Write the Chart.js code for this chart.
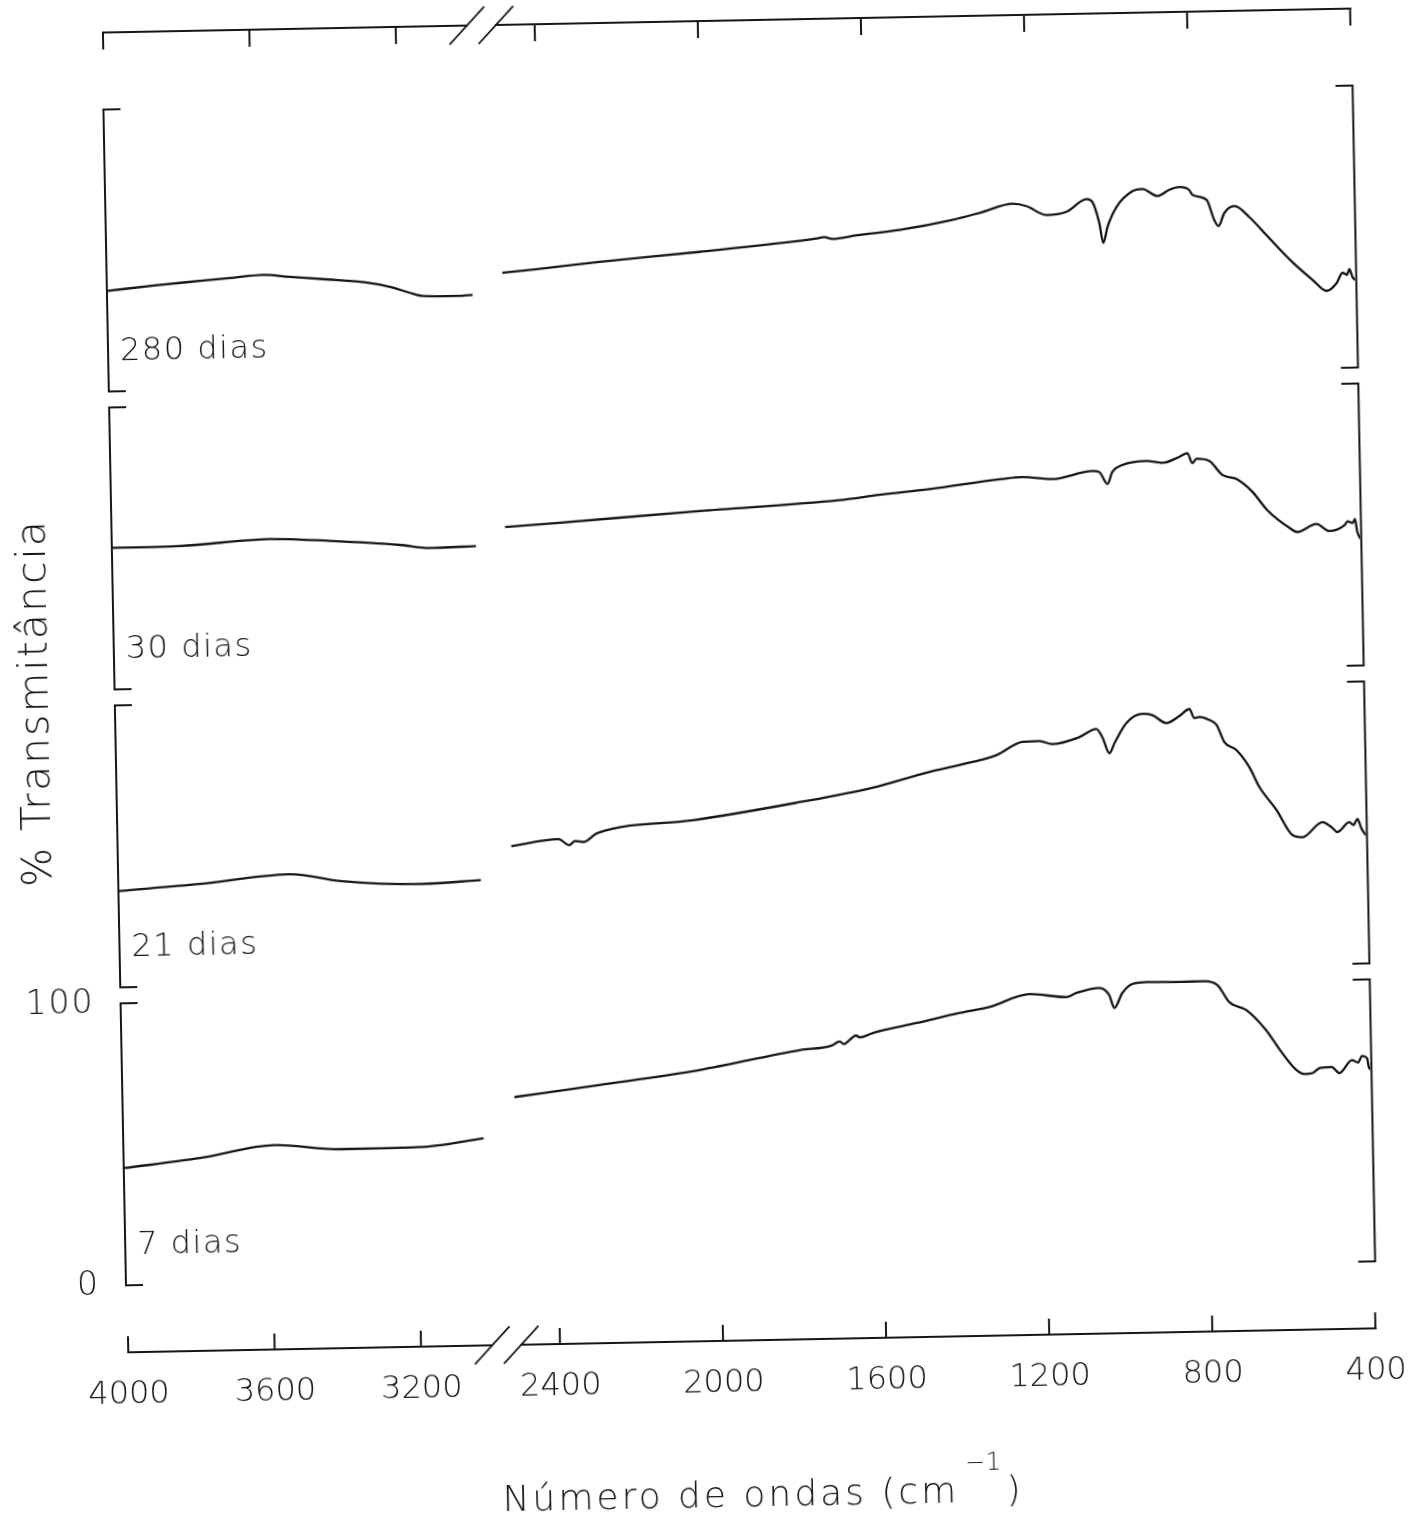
<!DOCTYPE html>
<html>
<head>
<meta charset="utf-8">
<script src="https://cdn.jsdelivr.net/npm/chart.js@4/dist/chart.umd.min.js"></script>
<style>
html,body{margin:0;padding:0;background:#fff;overflow:hidden;width:1423px;height:1518px}
#wrap{position:absolute;left:0;top:0;width:1423px;height:1518px;transform:rotate(-1.1deg);transform-origin:711px 759px}
canvas{display:block}
</style>
</head>
<body>
<div id="wrap"><canvas id="c" width="1423" height="1518"></canvas></div>
<script>
// ---------- data (wavenumber in cm-1, % transmittance) ----------
const panelLabels = ['7 dias', '21 dias', '30 dias', '280 dias'];
const xTickValues = [4000, 3600, 3200, 2400, 2000, 1600, 1200, 800, 400];
const yTickLabels = ['0', '100'];

// 280 dias
const wn280L = [4000, 3865, 3748, 3666, 3576, 3502, 3412, 3283, 3229, 3174, 3138, 3045, 3004];
const t280L  = [35.7, 37.4, 38.6, 39.4, 40.3, 39.4, 38.4, 36.7, 35.2, 32.9, 31.7, 31.5, 31.8];
const wn280R = [2491, 2405, 2253, 2007, 1761, 1720, 1700, 1680, 1620, 1515, 1385, 1311, 1237, 1203, 1154, 1105, 1055, 1041, 1025, 1016, 1005, 982, 942, 918, 881, 852, 827, 803, 795, 761, 743, 733, 718, 693, 657, 616, 554, 504, 471, 446, 431, 420, 414, 410, 407, 400];
const t280R  = [39.4, 40.5, 42.6, 45.5, 48.7, 49.4, 49.9, 49.2, 50.3, 51.9, 55.1, 57.7, 60.4, 59.5, 56.2, 57.2, 61.6, 60.5, 53.0, 45.9, 51.6, 58.6, 64.1, 64.8, 62.2, 64.3, 65.2, 64.1, 62.3, 60.5, 53.3, 51.1, 55.7, 58.1, 54.1, 47.6, 37.9, 31.3, 27.4, 30.1, 33.7, 33.0, 35.0, 33.6, 32.2, 31.0];

// 30 dias
const wn30L = [4000, 3817, 3571, 3407, 3216, 3134, 3008];
const t30L  = [50.2, 50.4, 52.3, 51.2, 49.3, 48.0, 48.4];
const wn30R = [2496, 2370, 2019, 1675, 1577, 1454, 1275, 1226, 1152, 1054, 1037, 1017, 1005, 980, 921, 882, 840, 820, 808, 798, 766, 735, 701, 662, 627, 573, 554, 507, 475, 438, 430, 418, 412, 407, 400];
const t30R  = [54.9, 56.0, 59.3, 62.2, 63.8, 65.5, 68.6, 69.1, 68.2, 70.8, 70.4, 66.1, 70.3, 72.7, 74.0, 73.2, 75.2, 76.5, 72.9, 74.4, 73.5, 68.5, 67.0, 62.3, 55.8, 49.3, 47.8, 50.5, 47.9, 49.9, 51.2, 50.6, 52.0, 47.4, 45.0];

// 21 dias
const wn21L = [4000, 3780, 3534, 3397, 3178, 3012];
const t21L  = [34.2, 36.1, 39.0, 36.2, 34.6, 35.6];
const wn21R = [2496, 2380, 2354, 2339, 2319, 2284, 2049, 1785, 1611, 1467, 1394, 1302, 1238, 1196, 1165, 1098, 1056, 1042, 1025, 1012, 982, 942, 918, 884, 852, 827, 815, 803, 779, 761, 743, 714, 683, 659, 618, 580, 556, 506, 482, 470, 440, 430, 420, 411, 404, 400];
const t21R  = [47.4, 49.6, 47.4, 48.8, 48.4, 51.5, 55.4, 61.1, 65.6, 70.9, 73.1, 76.4, 80.9, 81.1, 79.9, 82.2, 85.0, 82.1, 76.3, 79.9, 86.9, 90.0, 89.5, 86.6, 89.0, 91.4, 88.2, 88.5, 87.4, 85.6, 79.5, 76.6, 70.5, 63.3, 55.0, 46.0, 45.2, 50.4, 48.3, 46.8, 50.2, 49.2, 51.3, 48.0, 46.3, 45.5];

// 7 dias
const wn7L = [4000, 3794, 3589, 3411, 3193, 3018];
const t7L  = [41.6, 44.6, 48.7, 46.8, 47.0, 49.7];
const wn7R = [2500, 2292, 2046, 1799, 1720, 1700, 1690, 1676, 1660, 1650, 1620, 1602, 1511, 1405, 1332, 1232, 1142, 1117, 1061, 1037, 1025, 1005, 980, 945, 864, 803, 771, 743, 702, 654, 621, 581, 561, 542, 524, 495, 476, 445, 430, 420, 408, 404, 400];
const t7R  = [64.1, 67.8, 72.4, 78.8, 80.2, 81.6, 80.6, 82.0, 83.6, 82.9, 84.3, 85.0, 87.6, 90.9, 92.8, 97.1, 95.8, 97.2, 98.8, 96.2, 91.6, 96.8, 100.0, 100.6, 100.4, 100.5, 99.0, 92.9, 90.0, 82.7, 75.6, 68.3, 66.9, 67.2, 68.9, 69.2, 67.0, 71.5, 70.6, 72.9, 72.1, 69.0, 68.0];

// ---------- broken wavenumber axis ----------
const K_LEFT = 0.366;    // px per cm-1, 4000-3000 segment
const K_RIGHT = 0.4078;  // px per cm-1, 2500-400 segment
const GAP = 25;
function wnToP(w) {
  if (w >= 3000) return (4000 - w) * K_LEFT;
  return 1000 * K_LEFT + GAP + (2500 - w) * K_RIGHT;
}
const P_MAX = wnToP(400);

// vertical stacking of the four panels (each 0-100 %)
const SPACING = 105.67;
const Y_MIN = -23.76, Y_MAX = 444.33;
const INK = '#161616';
const FONT = '"DejaVu Sans", "Liberation Sans", sans-serif';
const FW = '200 ';

function series(wn, t, k) {
  return wn.map((w, i) => ({ x: wnToP(w), y: k * SPACING + t[i] }));
}
const spectra = [
  [wn7L, t7L, 0], [wn7R, t7R, 0],
  [wn21L, t21L, 1], [wn21R, t21R, 1],
  [wn30L, t30L, 2], [wn30R, t30R, 2],
  [wn280L, t280L, 3], [wn280R, t280R, 3]
];
const datasets = spectra.map(([wn, t, k]) => ({
  data: series(wn, t, k),
  borderColor: INK,
  borderWidth: 2.3,
  pointRadius: 0,
  cubicInterpolationMode: 'monotone',
  fill: false,
  borderJoinStyle: 'round'
}));

const irAxes = {
  id: 'irAxes',
  afterDatasetsDraw(chart) {
    const { ctx } = chart;
    const xs = chart.scales.x, ys = chart.scales.y;
    const X = w => xs.getPixelForValue(wnToP(w));
    const Y = v => ys.getPixelForValue(v);
    ctx.save();
    ctx.strokeStyle = INK;
    ctx.fillStyle = INK;
    ctx.lineWidth = 2;
    ctx.lineCap = 'square';

    const yTop = Y(Y_MAX), yBot = Y(Y_MIN);
    const xL = X(4000), xR = X(400);
    const xB1 = X(3000) - 2, xB2 = X(2500) + 2;

    function line(x1, y1, x2, y2) { ctx.beginPath(); ctx.moveTo(x1, y1); ctx.lineTo(x2, y2); ctx.stroke(); }

    // top and bottom axes with break
    [[yTop, 16], [yBot, -15]].forEach(([ya, tl]) => {
      line(xL, ya, xB1, ya);
      line(xB2, ya, xR, ya);
      xTickValues.forEach(w => line(X(w), ya, X(w), ya + tl));
      ctx.lineWidth = 1.8;
      line(xB1 - 17, ya + 18, xB1 + 17, ya - 18);
      line(xB2 - 17, ya + 18, xB2 + 17, ya - 18);
      ctx.lineWidth = 2;
    });

    // panel brackets and labels
    panelLabels.forEach((lab, k) => {
      const top = Y(k * SPACING + 100), bot = Y(k * SPACING);
      ctx.beginPath();
      ctx.moveTo(xL - 1 + 16, top); ctx.lineTo(xL - 1, top); ctx.lineTo(xL - 1, bot); ctx.lineTo(xL - 1 + 16, bot);
      ctx.stroke();
      ctx.beginPath();
      ctx.moveTo(xR + 1 - 16, top); ctx.lineTo(xR + 1, top); ctx.lineTo(xR + 1, bot); ctx.lineTo(xR + 1 - 16, bot);
      ctx.stroke();
      ctx.font = FW + '32px ' + FONT;
      ctx.letterSpacing = '1.5px';
      ctx.textAlign = 'left';
      ctx.textBaseline = 'middle';
      ctx.fillText(lab, xL + 11, bot - 39);
    });

    // y tick labels of the bottom panel
    ctx.font = FW + '33px ' + FONT;
    ctx.letterSpacing = '2px';
    ctx.textAlign = 'right';
    ctx.textBaseline = 'middle';
    ctx.fillText(yTickLabels[1], xL - 27, Y(100));
    ctx.fillText(yTickLabels[0], xL - 27, Y(0));

    // x tick labels
    ctx.font = FW + '32px ' + FONT;
    ctx.letterSpacing = '0px';
    ctx.textAlign = 'center';
    xTickValues.forEach(w => ctx.fillText(String(w), X(w), yBot + 43));

    // y title
    ctx.save();
    ctx.translate(49, 690);
    ctx.rotate(-Math.PI / 2);
    ctx.font = FW + '41px ' + FONT;
    ctx.letterSpacing = '2px';
    ctx.textAlign = 'center';
    ctx.textBaseline = 'alphabetic';
    ctx.fillText('% Transmitância', 0, 0);
    ctx.restore();

    // x title with superscript
    ctx.textAlign = 'left';
    ctx.textBaseline = 'alphabetic';
    ctx.font = FW + '36px ' + FONT;
    ctx.letterSpacing = '3px';
    const main = 'Número de ondas (cm';
    const w1 = ctx.measureText(main).width;
    const w3 = ctx.measureText(')').width;
    ctx.font = FW + '24px ' + FONT;
    ctx.letterSpacing = '1px';
    const sup = '\u22121';
    const w2 = ctx.measureText(sup).width;
    const total = w1 + 6 + w2 + 4 + w3;
    const x0 = 749 - total / 2, base = 1507;
    ctx.fillText(sup, x0 + w1 + 6, base - 32);
    ctx.font = FW + '36px ' + FONT;
    ctx.letterSpacing = '3px';
    ctx.fillText(main, x0, base);
    ctx.fillText(')', x0 + w1 + 6 + w2 + 4, base);
    ctx.restore();
  }
};

new Chart(document.getElementById('c'), {
  type: 'line',
  data: { datasets },
  options: {
    responsive: false,
    animation: false,
    events: [],
    devicePixelRatio: 1,
    layout: { padding: { left: 117, right: 1423 - 117 - P_MAX, top: 21, bottom: 177 } },
    plugins: { legend: { display: false }, tooltip: { enabled: false }, title: { display: false } },
    scales: {
      x: { type: 'linear', min: 0, max: P_MAX, display: false },
      y: { type: 'linear', min: Y_MIN, max: Y_MAX, display: false }
    }
  },
  plugins: [irAxes]
});
</script>
</body>
</html>
